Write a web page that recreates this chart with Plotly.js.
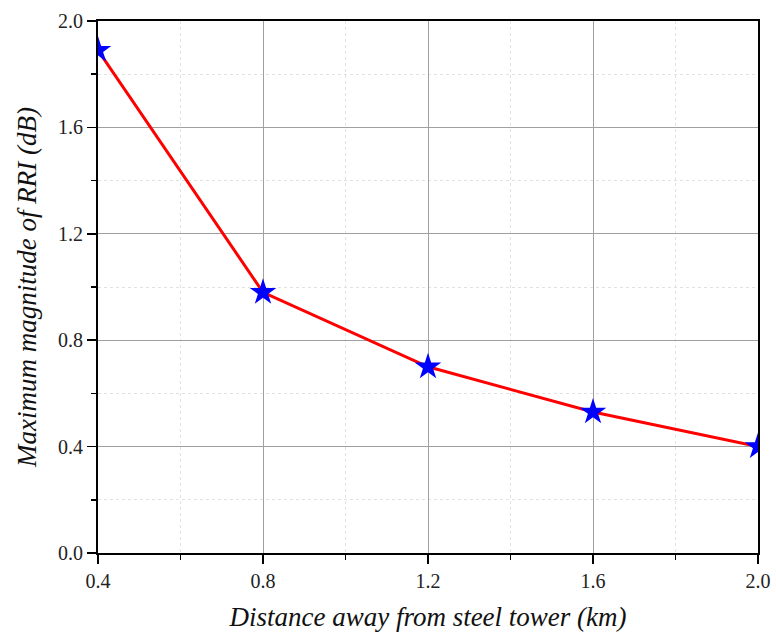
<!DOCTYPE html>
<html>
<head>
<meta charset="utf-8">
<script src="https://cdn.plot.ly/plotly-3.0.1.min.js"></script>
<style>html,body{margin:0;padding:0;background:#fff;}#chart{width:776px;height:633px;}</style>
</head>
<body>
<div id="chart"></div>
<script>
const distanceKm = [0.4, 0.8, 1.2, 1.6, 2.0];
const maxRRI = [1.89, 0.98, 0.70, 0.53, 0.40];
const xTicks = [0.4, 0.8, 1.2, 1.6, 2.0];
const yTicks = [0.0, 0.4, 0.8, 1.2, 1.6, 2.0];

const tickFont = {family: '"Liberation Serif", "Times New Roman", serif', size: 20, color: '#222'};
const titleFont = {family: '"Liberation Serif", "Times New Roman", serif', size: 27, color: '#111', style: 'italic'};

const trace = {
  x: distanceKm, y: maxRRI, type: 'scatter', mode: 'lines+markers',
  line: {color: '#ff0000', width: 3},
  marker: {symbol: 'star', size: 20, color: '#0000ff', line: {width: 0}},
  cliponaxis: true, showlegend: false
};

const axisCommon = {
  showline: true, linecolor: '#000', linewidth: 2, mirror: true,
  ticks: 'outside', ticklen: 9, tickwidth: 1.5, tickcolor: '#000',
  showgrid: true, gridcolor: '#a0a0a0', gridwidth: 1,
  zeroline: false, tickfont: tickFont,
  minor: {ticks: 'outside', ticklen: 5, tickwidth: 1.5, tickcolor: '#000', showgrid: true, gridcolor: '#e2e2e2', griddash: '3px,3px', gridwidth: 1}
};

const layout = {
  width: 776, height: 633,
  margin: {l: 98, r: 18, t: 21, b: 80},
  paper_bgcolor: '#fff', plot_bgcolor: '#fff',
  xaxis: Object.assign({}, axisCommon, {
    range: [0.4, 2.0], tickvals: xTicks, ticktext: xTicks.map(v => v.toFixed(1)),
    minor: Object.assign({}, axisCommon.minor, {dtick: 0.2, tick0: 0.4}),
    title: {text: 'Distance away from steel tower (km)', font: titleFont, standoff: 16}
  }),
  yaxis: Object.assign({}, axisCommon, {
    range: [0, 2.0], tickvals: yTicks, ticktext: yTicks.map(v => v.toFixed(1)),
    minor: Object.assign({}, axisCommon.minor, {dtick: 0.2, tick0: 0}),
    title: {text: 'Maximum magnitude of RRI (dB)', font: titleFont, standoff: 14}
  })
};

Plotly.newPlot('chart', [trace], layout, {staticPlot: true, displayModeBar: false});
</script>
</body>
</html>
